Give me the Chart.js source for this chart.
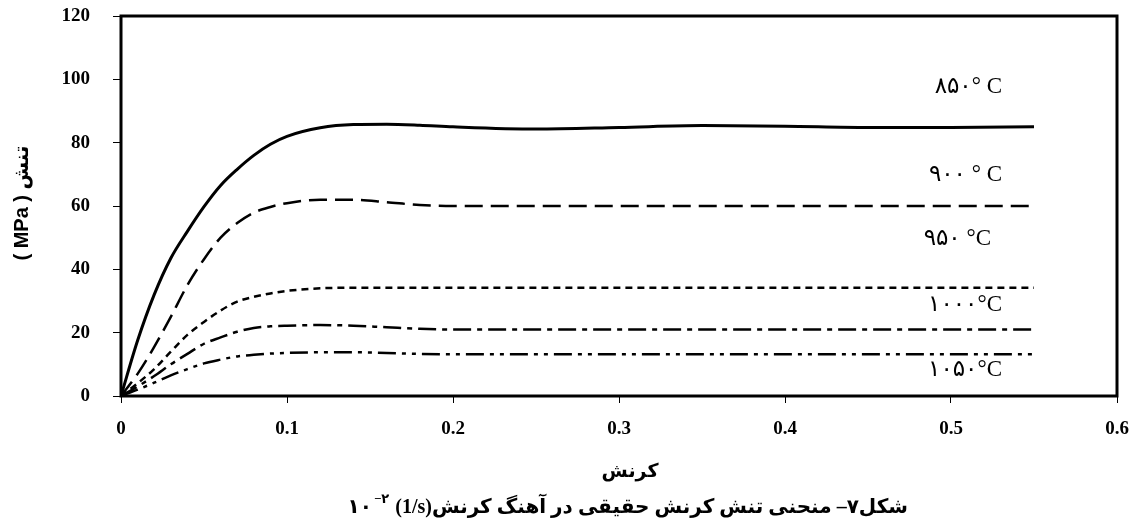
<!DOCTYPE html>
<html>
<head>
<meta charset="utf-8">
<script src="https://cdn.jsdelivr.net/npm/chart.js@4.4.0/dist/chart.umd.min.js"></script>
<style>
  html, body { margin: 0; padding: 0; background: #fff; }
  #wrap { width: 1132px; height: 525px; position: relative; }
</style>
</head>
<body>
<div id="wrap"><canvas id="flowChart"></canvas></div>
<script>
// strain values shared by all curves
const strain = [0, 0.01, 0.02, 0.03, 0.04, 0.05, 0.06, 0.07, 0.08, 0.09, 0.10,
                0.12, 0.14, 0.16, 0.18, 0.20, 0.25, 0.30, 0.35, 0.40, 0.45, 0.50, 0.55];

// true stress (MPa) per temperature
const stress850  = [0, 17.5, 32, 43.5, 52, 59.8, 66.5, 71.6, 76, 79.5, 82,
                    84.7, 85.7, 85.8, 85.5, 85, 84.3, 84.8, 85.4, 85.2, 84.8, 84.8, 85];
const stress900  = [0, 7, 15.5, 25, 35, 43.2, 50, 54.6, 57.9, 59.7, 60.9,
                    62, 62, 61.2, 60.3, 60, 60, 60, 60, 60, 60, 60, 60];
const stress950  = [0, 4, 8.5, 14, 19.3, 23.4, 27, 29.8, 31.3, 32.4, 33.2,
                    34, 34.2, 34.2, 34.2, 34.2, 34.2, 34.2, 34.2, 34.2, 34.2, 34.2, 34.2];
const stress1000 = [0, 3, 6.3, 10, 13.3, 16.5, 18.5, 20.3, 21.5, 22, 22.2,
                    22.4, 22.2, 21.7, 21.2, 21, 21, 21, 21, 21, 21, 21, 21];
const stress1050 = [0, 2, 4.2, 6.5, 8.5, 10.3, 11.5, 12.5, 13, 13.4, 13.6,
                    13.8, 13.8, 13.6, 13.3, 13.2, 13.2, 13.2, 13.2, 13.2, 13.2, 13.2, 13.2];

const seriesLabels = ['۸۵۰° C', '۹۰۰ ° C', '۹۵۰ °C', '۱۰۰۰°C', '۱۰۵۰°C'];
const xTickLabels = ['0', '0.1', '0.2', '0.3', '0.4', '0.5', '0.6'];
const yTickLabels = ['0', '20', '40', '60', '80', '100', '120'];

const xTitle = 'کرنش';
const yTitle = '( MPa ) تنش';
const captionText = 'شکل۷– منحنی تنش کرنش حقیقی در آهنگ کرنش';
const captionUnit = '(1/s)';
const captionExp = '−۲';
const captionBase = '۱۰';

const toPoints = (vals) => strain.map((s, i) => ({ x: s, y: vals[i] }));

const serifBold = { family: '"Liberation Serif", "Times New Roman", serif', size: 19, weight: 'bold' };

function lineSet(label, vals, dash, width) {
    return {
        label,
        data: toPoints(vals),
        borderColor: '#000',
        borderWidth: width,
        borderDash: dash,
        pointRadius: 0,
        fill: false,
        cubicInterpolationMode: 'monotone'
    };
}

// frame, curve labels, axis titles and caption
const extrasPlugin = {
    id: 'extras',
    afterDraw(chart) {
        const { ctx, chartArea: a } = chart;
        ctx.save();
        ctx.strokeStyle = '#000';
        ctx.lineWidth = 3;
        ctx.strokeRect(a.left, a.top, a.right - a.left, a.bottom - a.top);

        // curve labels
        ctx.fillStyle = '#000';
        ctx.font = '23px "Liberation Serif", "DejaVu Sans", serif';
        ctx.textAlign = 'right';
        ctx.textBaseline = 'middle';
        const labelPos = [[1002, 87], [1002, 175], [991, 239], [1002, 305], [1002, 370]];
        seriesLabels.forEach((t, i) => ctx.fillText(t, labelPos[i][0], labelPos[i][1]));

        // y title, rotated
        ctx.save();
        ctx.translate(22, 203);
        ctx.rotate(-Math.PI / 2);
        ctx.textAlign = 'center';
        ctx.font = 'bold 20px "Liberation Sans", "DejaVu Sans", sans-serif';
        ctx.fillText(yTitle, 0, 0);
        ctx.restore();

        // x title
        ctx.textAlign = 'center';
        ctx.font = 'bold 19px "Liberation Serif", "DejaVu Sans", serif';
        ctx.fillText(xTitle, 630, 472);

        // caption: persian part, then unit, exponent and base to its left
        const capFont = 'bold 20px "Liberation Serif", "DejaVu Sans", serif';
        ctx.font = capFont;
        ctx.direction = 'rtl';
        ctx.textAlign = 'right';
        let x = 908;
        ctx.fillText(captionText, x, 508);
        x -= ctx.measureText(captionText).width;
        ctx.direction = 'ltr';
        ctx.fillText(captionUnit, x, 508);
        x -= ctx.measureText(captionUnit).width + 6;
        ctx.font = 'bold 13px "Liberation Serif", "DejaVu Sans", serif';
        ctx.fillText(captionExp, x, 500);
        x -= ctx.measureText(captionExp).width + 2;
        ctx.font = capFont;
        ctx.fillText(captionBase, x, 508);
        ctx.restore();
    }
};

new Chart(document.getElementById('flowChart'), {
    type: 'line',
    data: {
        datasets: [
            lineSet(seriesLabels[0], stress850, [], 3),
            lineSet(seriesLabels[1], stress900, [18, 8], 2.5),
            lineSet(seriesLabels[2], stress950, [7, 5], 2.5),
            lineSet(seriesLabels[3], stress1000, [18, 6, 5, 6], 2.5),
            lineSet(seriesLabels[4], stress1050, [18, 6, 4, 6, 4, 6], 2.5)
        ]
    },
    options: {
        responsive: true,
        maintainAspectRatio: false,
        animation: false,
        layout: { padding: { top: 16, right: 15, left: 0, bottom: 0 } },
        plugins: {
            legend: { display: false },
            tooltip: { enabled: false }
        },
        scales: {
            x: {
                type: 'linear',
                min: 0,
                max: 0.6,
                afterFit: (s) => { s.height = 129; s.paddingLeft = 0; s.paddingRight = 0; },
                grid: { drawOnChartArea: false, tickLength: 7, color: '#000', lineWidth: 1 },
                border: { display: false },
                ticks: {
                    stepSize: 0.1,
                    autoSkip: false,
                    maxRotation: 0,
                    padding: 15,
                    color: '#000',
                    font: serifBold,
                    callback: (v, i) => xTickLabels[i]
                }
            },
            y: {
                min: 0,
                max: 120,
                afterFit: (s) => { s.width = 121; s.paddingTop = 0; s.paddingBottom = 0; },
                grid: { drawOnChartArea: false, tickLength: 8, color: '#000', lineWidth: 1 },
                border: { display: false },
                ticks: {
                    stepSize: 20,
                    padding: 23,
                    color: '#000',
                    font: serifBold,
                    callback: (v, i) => yTickLabels[i]
                }
            }
        }
    },
    plugins: [extrasPlugin]
});
</script>
</body>
</html>
